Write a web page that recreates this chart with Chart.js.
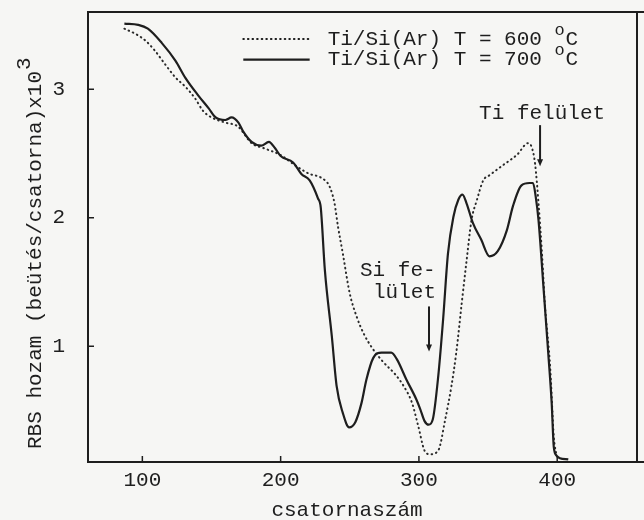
<!DOCTYPE html>
<html>
<head>
<meta charset="utf-8">
<script src="https://cdn.jsdelivr.net/npm/chart.js@4.4.1/dist/chart.umd.min.js"></script>
<style>
  html,body{margin:0;padding:0;background:#f6f6f4;}
  #wrap{width:644px;height:520px;}
</style>
</head>
<body>
<div id="wrap"><canvas id="rbs" width="644" height="520"></canvas></div>
<script>
// RBS spectra, Ti/Si annealed in Ar
const xTicks = [100, 200, 300, 400];
const yTicks = [1, 2, 3];

const solidLabel = 'Ti/Si(Ar) T = 700 ';   // 700 oC
const solidX = [87,97,104,114,124,131,140.5,148,153,160,164.5,169.5,173,179,186,191.5,196,200,209,215,221,227,229,
  232,237,240.5,245,249.5,254,258.5,262,267,273,280,284,291,298,301,304,307,310,314,317.5,321,325,328.5,331.5,
  334.5,339,345,351,357,363.5,368,374,380,382.5,384.5,386.5,390,393.5,396,397.5,399.5,402,408];
const solidY = [3.51,3.50,3.47,3.36,3.22,3.09,2.95,2.85,2.78,2.76,2.78,2.74,2.67,2.59,2.56,2.59,2.54,2.48,2.43,2.34,2.29,2.15,2.08,
  1.59,1.08,0.69,0.48,0.37,0.41,0.56,0.74,0.91,0.95,0.95,0.90,0.74,0.59,0.51,0.42,0.39,0.43,0.77,1.21,1.72,2.01,2.14,2.18,
  2.11,1.96,1.83,1.70,1.74,1.90,2.09,2.25,2.27,2.27,2.16,1.98,1.47,0.95,0.56,0.22,0.15,0.13,0.12];

const dottedLabel = 'Ti/Si(Ar) T = 600 ';  // 600 oC
const dottedX = [87,95,102,109,116,124,131,138,144,150,160,169,179,188,199.5,211.5,221,229.5,235.5,239,241.5,245,250,255,
  260,266,274,283,289,295,299.5,304,308,314,319,323.5,327,331,334.5,338,342,346.5,351,361,371,379,381.5,384,386.5,389,
  391,395,397.5,399.5];
const dottedY = [3.47,3.43,3.38,3.30,3.20,3.09,3.02,2.93,2.83,2.78,2.74,2.71,2.58,2.54,2.49,2.40,2.34,2.31,2.24,2.11,1.93,1.72,1.41,1.23,
  1.10,0.99,0.88,0.78,0.69,0.56,0.38,0.19,0.16,0.19,0.43,0.69,0.95,1.34,1.67,1.98,2.14,2.29,2.33,2.41,2.49,2.58,2.55,2.42,2.11,1.72,
  1.34,0.82,0.30,0.15];

const INK = '#1e1e1e';
const FONT = '21px "Liberation Mono", "DejaVu Sans Mono", monospace';

function pts(xs, ys){ return xs.map((x,i)=>({x:x, y:ys[i]})); }

function arrowDown(ctx, x, y1, y2){
  ctx.beginPath(); ctx.moveTo(x, y1); ctx.lineTo(x, y2-4); ctx.stroke();
  ctx.beginPath(); ctx.moveTo(x-3, y2-7); ctx.lineTo(x+3, y2-7); ctx.lineTo(x, y2); ctx.closePath(); ctx.fill();
}

// frame, inward ticks, legend, labels
const decor = {
  id:'decor',
  afterDraw(chart){
    const ctx = chart.ctx, a = chart.chartArea;
    const xs = chart.scales.x, ys = chart.scales.y;
    ctx.save();
    ctx.strokeStyle = INK; ctx.fillStyle = INK; ctx.lineWidth = 2;
    ctx.beginPath();
    ctx.moveTo(a.left, a.top); ctx.lineTo(644, a.top);
    ctx.moveTo(a.right, a.top); ctx.lineTo(a.right, a.bottom);
    ctx.moveTo(a.right, a.bottom); ctx.lineTo(644, a.bottom);
    ctx.stroke();
    ctx.lineWidth = 1.5;
    ctx.beginPath();
    xTicks.forEach(v=>{ const p = xs.getPixelForValue(v); ctx.moveTo(p, a.bottom); ctx.lineTo(p, a.bottom-6); });
    yTicks.forEach(v=>{ const p = ys.getPixelForValue(v); ctx.moveTo(a.left, p); ctx.lineTo(a.left+6, p); });
    ctx.stroke();

    ctx.font = FONT; ctx.textBaseline = 'middle'; ctx.textAlign = 'left';
    // legend
    const lx1 = xs.getPixelForValue(173), lx2 = xs.getPixelForValue(221), tx = xs.getPixelForValue(234);
    const rows = [[3.39, chart.data.datasets[1]], [3.23, chart.data.datasets[0]]];
    rows.forEach(([v, ds])=>{
      const py = ys.getPixelForValue(v);
      ctx.save();
      ctx.lineWidth = ds.borderWidth; ctx.lineCap = ds.borderCapStyle || 'butt';
      ctx.setLineDash(ds.borderDash || []);
      ctx.beginPath(); ctx.moveTo(lx1, py); ctx.lineTo(lx2, py); ctx.stroke();
      ctx.restore();
      ctx.fillText(ds.label, tx, py);
      const w = ctx.measureText(ds.label).width;
      ctx.font = '17px "Liberation Mono", monospace';
      ctx.fillText('o', tx + w, py - 9);
      ctx.font = FONT;
      ctx.fillText('C', tx + w + 11, py);
    });

    // Ti surface
    ctx.fillText('Ti felület', xs.getPixelForValue(343.5), ys.getPixelForValue(2.81));
    ctx.lineWidth = 2;
    arrowDown(ctx, xs.getPixelForValue(387.6), ys.getPixelForValue(2.72), ys.getPixelForValue(2.40));
    // Si surface
    ctx.fillText('Si fe-', xs.getPixelForValue(257.4), ys.getPixelForValue(1.59));
    ctx.fillText('lület', xs.getPixelForValue(266.8), ys.getPixelForValue(1.42));
    arrowDown(ctx, xs.getPixelForValue(307.3), ys.getPixelForValue(1.31), ys.getPixelForValue(0.96));

    // axis titles
    ctx.textAlign = 'center';
    ctx.fillText('csatornaszám', xs.getPixelForValue(248), 510);
    ctx.save();
    ctx.translate(35, 449); ctx.rotate(-Math.PI/2);
    ctx.textAlign = 'left';
    const yt = 'RBS hozam (beütés/csatorna)x10';
    ctx.fillText(yt, 0, 0);
    ctx.fillText('3', ctx.measureText(yt).width + 1, -11);
    ctx.restore();
    ctx.restore();
  }
};

new Chart(document.getElementById('rbs'), {
  type:'line',
  data:{ datasets:[
    { label:solidLabel, data:pts(solidX, solidY), borderColor:INK, borderWidth:2.2,
      pointRadius:0, cubicInterpolationMode:'monotone', fill:false },
    { label:dottedLabel, data:pts(dottedX, dottedY), borderColor:'#2a2a2a', borderWidth:2,
      borderDash:[0.6, 4], borderCapStyle:'round', pointRadius:0, cubicInterpolationMode:'monotone', fill:false }
  ]},
  options:{
    responsive:false, animation:false,
    layout:{ padding:{ top:12, right:7, left:0, bottom:0 } },
    plugins:{ legend:{ display:false }, tooltip:{ enabled:false } },
    scales:{
      x:{ type:'linear', min:60.7, max:457.7,
          afterBuildTicks:s=>{ s.ticks = xTicks.map(v=>({value:v})); },
          afterFit:s=>{ s.height = 58; s.paddingLeft = 0; s.paddingRight = 0; },
          grid:{ display:false }, border:{ display:true, color:INK, width:2 },
          ticks:{ color:INK, font:{ family:'"Liberation Mono", monospace', size:21 }, padding:-2, maxRotation:0 } },
      y:{ type:'linear', min:0.10, max:3.60,
          afterBuildTicks:s=>{ s.ticks = yTicks.map(v=>({value:v})); },
          afterFit:s=>{ s.width = 88; s.paddingTop = 0; s.paddingBottom = 0; },
          grid:{ display:false }, border:{ display:true, color:INK, width:2 },
          ticks:{ color:INK, font:{ family:'"Liberation Mono", monospace', size:21 }, padding:15 } }
    }
  },
  plugins:[decor]
});
</script>
</body>
</html>
